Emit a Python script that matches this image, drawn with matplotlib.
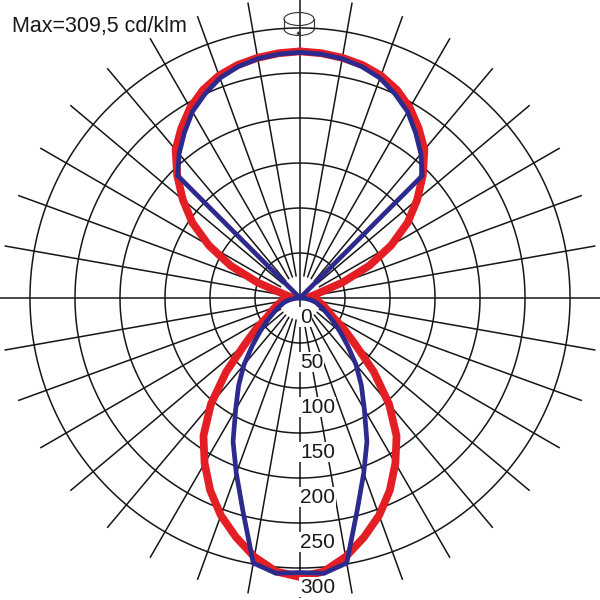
import numpy as np
import matplotlib
matplotlib.use('Agg')
import matplotlib.pyplot as plt
from matplotlib.patches import Ellipse, Arc

plt.rcParams['font.family'] = ['Liberation Sans', 'DejaVu Sans']

# gamma angles (deg from nadir), one half of the symmetric curve
angles = np.arange(0, 181, 5)

# red curve (cd/klm)
red_vals = [310, 305, 292, 275, 257, 236, 212, 187, 154, 116,
            80, 59, 42, 35, 29, 24, 20, 16, 12, 10,
            14, 22, 50, 85, 117, 146, 170, 193, 215, 230,
            244, 255, 263, 268, 271, 273, 274]

# blue curve (cd/klm)
blue_vals = [305, 307, 299, 245, 207, 176, 143, 119, 97, 75,
             58, 45, 35, 28, 22, 18, 12, 6, 0, 0,
             0, 0, 0, 0, 0, 0, 0, 192, 209, 224,
             239, 250, 260, 266, 270, 272, 273]

ring_values = [50, 100, 150, 200, 250, 300]
ring_labels = ['0', '50', '100', '150', '200', '250', '300']
max_text = 'Max=309,5 cd/klm'

r_max = 333.3   # outer edge of the grid (cd/klm)
r_inner = 25    # radial lines start here


def mirror(vals):
    vals = np.asarray(vals, dtype=float)
    th = np.concatenate([-angles[::-1], angles[1:]])
    rr = np.concatenate([vals[::-1], vals[1:]])
    return np.radians(th), rr


fig = plt.figure(figsize=(6, 6), dpi=100)
ax = fig.add_axes([0, 2 / 600, 1, 1], projection='polar')
ax.set_theta_zero_location('S')
ax.set_ylim(0, r_max)
ax.grid(False)
ax.set_xticks([])
ax.set_yticks([])
ax.spines['polar'].set_visible(False)

gc = '#161616'
full = np.linspace(0, 2 * np.pi, 721)
for v in ring_values:
    ax.plot(full, np.full_like(full, v), color=gc, lw=1.1, zorder=1)

for a in range(0, 360, 10):
    t = np.radians(a)
    start = 0 if a % 90 == 0 else r_inner
    ax.plot([t, t], [start, r_max], color=gc, lw=1.1, zorder=1)

th, rr = mirror(red_vals)
ax.plot(th, rr, color='#e31e25', lw=5.6, zorder=3,
        solid_joinstyle='round', solid_capstyle='round')
th, rr = mirror(blue_vals)
ax.plot(th, rr, color='#2c2a8c', lw=3.4, zorder=4,
        solid_joinstyle='round', solid_capstyle='round')

for i, lab in enumerate(ring_labels):
    ax.text(0, i * 50 + 27.5, lab, ha='left', va='baseline', fontsize=15,
            color='#1a1a1a', zorder=5,
            bbox=dict(facecolor='white', edgecolor='none', pad=0.5))

fig.text(12 / 600, 1 - 32 / 600, max_text, fontsize=15.5, color='#1a1a1a',
         ha='left', va='baseline')

# small rotation symbol at the top
ov = fig.add_axes([0, 0, 1, 1])
ov.set_xlim(0, 600)
ov.set_ylim(600, 0)
ov.axis('off')
ov.add_patch(Ellipse((299, 19), 30, 13, fill=False, color='#333333', lw=0.8))
ov.add_patch(Arc((299, 29), 30, 13, theta1=0, theta2=180, color='#333333', lw=0.8))
ov.plot([284, 284], [19, 29], color='#333333', lw=0.8)
ov.plot([314, 314], [19, 29], color='#333333', lw=0.8)
ov.annotate('', xy=(303, 38), xytext=(296, 30),
            arrowprops=dict(arrowstyle='-|>', color='#333333', lw=0.7,
                            mutation_scale=6))

fig.savefig('out.png', dpi=100, facecolor='white')
